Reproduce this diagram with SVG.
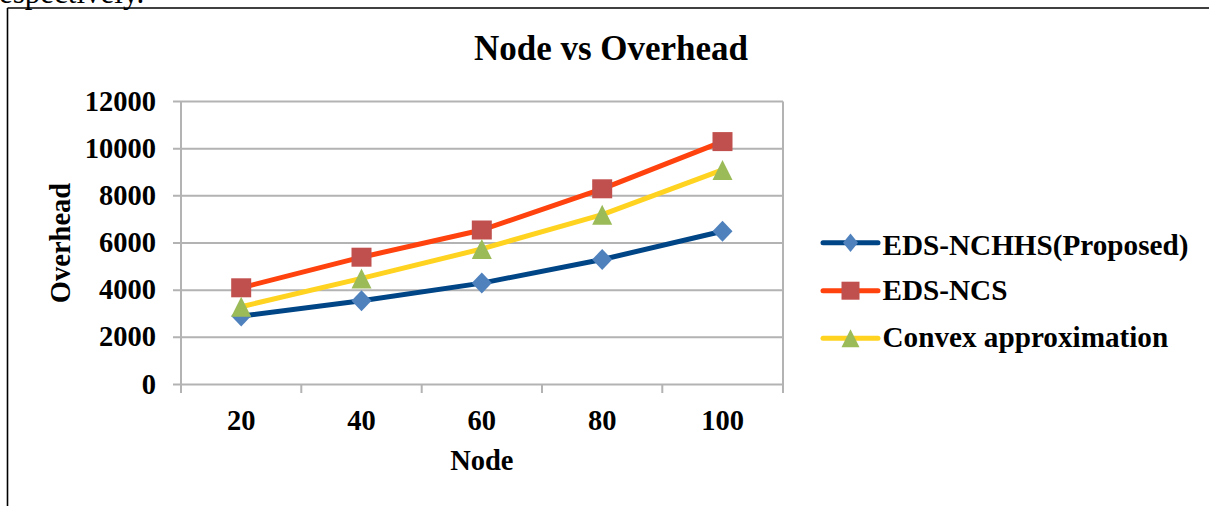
<svg xmlns="http://www.w3.org/2000/svg" width="1209" height="506" viewBox="0 0 1209 506">
<style>
.t{font-family:"Liberation Serif","Times New Roman",serif;fill:#000}
.b{font-weight:bold}
.grid{stroke:#b3b3b3;stroke-width:2;fill:none}
.s1{stroke:#004586;stroke-width:5;fill:none;stroke-linejoin:round;stroke-linecap:round}
.s2{stroke:#ff420e;stroke-width:5;fill:none;stroke-linejoin:round;stroke-linecap:round}
.s3{stroke:#ffd320;stroke-width:5;fill:none;stroke-linejoin:round;stroke-linecap:round}
.m1{fill:#4f81bd}
.m2{fill:#c0504d}
.m3{fill:#9bbb59}
</style>
<defs>
<path id="dia" d="M0,-10.5 L10,0 L0,10.5 L-10,0 Z"/>
<rect id="sq" x="-10" y="-9.5" width="20" height="19"/>
<path id="tri" d="M0,-10 L10,10 L-10,10 Z"/>
</defs>
<rect width="1209" height="506" fill="#fff"/>
<text class="t" x="-1" y="3" font-size="31">espectively.</text>
<g id="frame">
<line x1="7.5" y1="8" x2="1209" y2="8" stroke="#000" stroke-width="1.6"/>
<line x1="7.5" y1="8" x2="7.5" y2="506" stroke="#000" stroke-width="1.6"/>
</g>
<g id="title"><text class="t b" x="611" y="60" font-size="35" text-anchor="middle">Node vs Overhead</text></g>
<g id="plot-area">
<path class="grid" d="M173,101.5H783M173,148.7H783M173,195.8H783M173,243H783M173,290.2H783M173,337.3H783M173,384.5H783"/>
<path class="grid" d="M181,101.5V393M783,101.5V393M301.3,384.5V393M421.7,384.5V393M542,384.5V393M662.3,384.5V393"/>
</g>
<g id="y-axis" class="t b" font-size="28.5" text-anchor="end">
<text x="156" y="110.5">12000</text>
<text x="156" y="157.7">10000</text>
<text x="156" y="204.8">8000</text>
<text x="156" y="252">6000</text>
<text x="156" y="299.2">4000</text>
<text x="156" y="346.3">2000</text>
<text x="156" y="393.5">0</text>
<text x="70" y="243" text-anchor="middle" transform="rotate(-90 70 243)">Overhead</text>
</g>
<g id="x-axis" class="t b" font-size="28.5" text-anchor="middle">
<text x="241.2" y="429.5">20</text>
<text x="361.5" y="429.5">40</text>
<text x="481.8" y="429.5">60</text>
<text x="602.2" y="429.5">80</text>
<text x="722.5" y="429.5">100</text>
<text x="481.8" y="470">Node</text>
</g>
<g id="connectors">
<polyline class="s1" points="241.2,316.1 361.5,300.8 481.8,283.1 602.2,259.5 722.5,231.2"/>
<polyline class="s2" points="241.2,287.8 361.5,257.2 481.8,230 602.2,188.8 722.5,141.6"/>
<polyline class="s3" points="241.2,306.7 361.5,278.4 481.8,248.9 602.2,214.7 722.5,169.9"/>
</g>
<g id="series-eds-nchhs" class="m1">
<use href="#dia" x="241.2" y="316.1"/><use href="#dia" x="361.5" y="300.8"/><use href="#dia" x="481.8" y="283.1"/><use href="#dia" x="602.2" y="259.5"/><use href="#dia" x="722.5" y="231.2"/>
</g>
<g id="series-eds-ncs" class="m2">
<use href="#sq" x="241.2" y="287.8"/><use href="#sq" x="361.5" y="257.2"/><use href="#sq" x="481.8" y="230"/><use href="#sq" x="602.2" y="188.8"/><use href="#sq" x="722.5" y="141.6"/>
</g>
<g id="series-convex" class="m3">
<use href="#tri" x="241.2" y="306.7"/><use href="#tri" x="361.5" y="278.4"/><use href="#tri" x="481.8" y="248.9"/><use href="#tri" x="602.2" y="214.7"/><use href="#tri" x="722.5" y="169.9"/>
</g>
<g id="legend">
<line class="s1" x1="823" y1="242.7" x2="878" y2="242.7"/>
<path class="m1" d="M850.5,233.5 L858,242.7 L850.5,251.9 L843,242.7 Z"/>
<text class="t b" x="882.5" y="255" font-size="29.2">EDS-NCHHS(Proposed)</text>
<line class="s2" x1="823" y1="290.7" x2="878" y2="290.7"/>
<rect class="m2" x="841.5" y="281.7" width="18" height="18"/>
<text class="t b" x="882.5" y="300" font-size="29.2">EDS-NCS</text>
<line class="s3" x1="823" y1="338.3" x2="878" y2="338.3"/>
<path class="m3" d="M850.5,329.3 L859.5,347.3 L841.5,347.3 Z"/>
<text class="t b" x="882.5" y="347.3" font-size="29.2">Convex approximation</text>
</g>
</svg>
